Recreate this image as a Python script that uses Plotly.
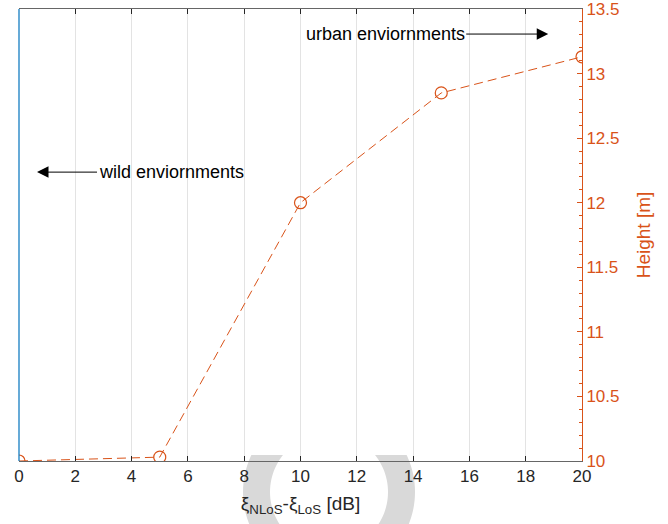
import numpy as np
import plotly.graph_objects as go

# ---- data ----
xi_diff = [0, 5, 10, 15, 20]
height = [10.0, 10.03, 12.0, 12.85, 13.13]
x_ticks = [0, 2, 4, 6, 8, 10, 12, 14, 16, 18, 20]
y_ticks = [10, 10.5, 11, 11.5, 12, 12.5, 13, 13.5]

ORANGE = "#D95319"
BLUE = "#0072BD"
DARK = "#262626"
FONT = "Helvetica, Arial, Liberation Sans, sans-serif"

W, H = 668, 524
ML, MR, MT, MB = 19, 86, 9, 63
PW, PH = W - ML - MR, H - MT - MB


def px_to_paper(px, py):
    return (px - ML) / PW, (H - MB - py) / PH


def ring_path(cx, cy, r_out, r_in, n=120):
    parts = []
    for r in (r_out, r_in):
        pts = []
        for t in np.linspace(0, 2 * np.pi, n, endpoint=False):
            pts.append(px_to_paper(cx + r * np.cos(t), cy + r * np.sin(t)))
        s = "M" + " L".join(f"{a:.5f},{b:.5f}" for a, b in pts) + " Z"
        parts.append(s)
    return " ".join(parts)


fig = go.Figure()

fig.add_trace(go.Scatter(
    x=xi_diff, y=height, yaxis="y2", mode="lines+markers",
    line=dict(color=ORANGE, width=1, dash="9px,5px"),
    marker=dict(symbol="circle-open", size=12, color=ORANGE, line=dict(width=1.2, color=ORANGE)),
    showlegend=False, hoverinfo="skip",
))

shapes = [
    dict(type="path", xref="paper", yref="paper", layer="below",
         path=ring_path(329, 492, 86, 59), fillcolor="#d9d9d9",
         line=dict(width=0), fillrule="evenodd"),
    dict(type="rect", xref="paper", yref="paper", layer="below",
         x0=0, x1=1, y0=px_to_paper(0, 455)[1], y1=1,
         fillcolor="white", line=dict(width=0)),
    dict(type="line", xref="paper", yref="paper", layer="above",
         x0=0, x1=0, y0=0, y1=1, line=dict(color=BLUE, width=1.2)),
]

fig.update_layout(
    width=W, height=H,
    margin=dict(l=ML, r=MR, t=MT, b=MB, autoexpand=False),
    paper_bgcolor="white", plot_bgcolor="white",
    font=dict(family=FONT, size=17, color=DARK),
    shapes=shapes,
    xaxis=dict(
        range=[0, 20], tickvals=x_ticks, ticktext=[str(v) for v in x_ticks],
        ticks="inside", ticklen=5, tickcolor=DARK, mirror="ticks",
        showline=True, linecolor="#666666", linewidth=1,
        showgrid=True, gridcolor="#e3e3e3", gridwidth=1, zeroline=False,
        tickfont=dict(size=17, color=DARK), automargin=False,
        ticklabeloverflow="allow",
        title=dict(text="ξ<sub>NLoS</sub>-ξ<sub>LoS</sub> [dB]",
                   font=dict(size=19, color=DARK), standoff=11),
    ),
    yaxis=dict(
        range=[10, 13.5], showline=False,
        showgrid=False, zeroline=False, showticklabels=False, ticks="",
        automargin=False,
    ),
    yaxis2=dict(
        range=[10, 13.5], overlaying="y", side="right",
        tickvals=y_ticks, ticktext=[f"{v:g}" for v in y_ticks],
        ticks="inside", ticklen=5, tickcolor=ORANGE,
        minor=dict(dtick=0.1, ticks="inside", ticklen=3, tickcolor=ORANGE),
        showline=True, linecolor=ORANGE, linewidth=1,
        showgrid=False, zeroline=False, automargin=False,
        ticklabeloverflow="allow",
        tickfont=dict(size=17, color=ORANGE),
        title=dict(text="Height [m]", font=dict(size=19, color=ORANGE), standoff=18),
    ),
    annotations=[
        dict(x=18.8, y=13.306, xref="x", yref="y2", text="urban enviornments",
             showarrow=True, ax=-163, ay=0, arrowhead=2, arrowsize=2.3,
             arrowwidth=1, arrowcolor="black", font=dict(size=18, color="black")),
        dict(x=0.64, y=12.237, xref="x", yref="y2", text="wild enviornments",
             showarrow=True, ax=134, ay=0, arrowhead=2, arrowsize=2.3,
             arrowwidth=1, arrowcolor="black", font=dict(size=18, color="black")),
    ],
)

fig.write_html("out.html", config={"displayModeBar": False},
               post_script="document.body.style.margin='0';")
